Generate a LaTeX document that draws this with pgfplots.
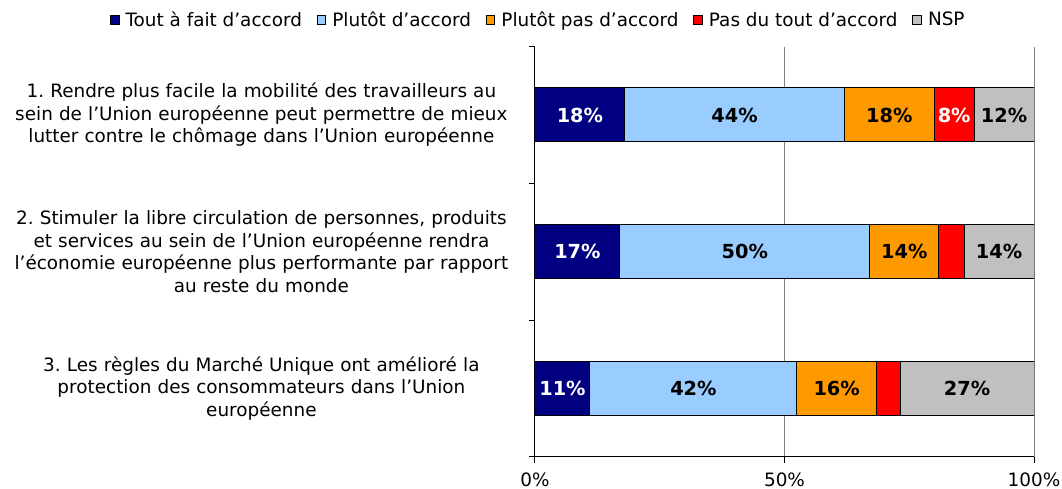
\documentclass[border=0pt]{standalone}
\usepackage{pgfplots}
\pgfplotsset{compat=1.18}
\usepackage{pgfplotstable}
\usepackage{fontspec}
\setmainfont{DejaVu Sans}
\frenchspacing

\definecolor{navy}{HTML}{000080}
\definecolor{lblue}{HTML}{99CCFF}
\definecolor{orng}{HTML}{FF9900}
\definecolor{rd}{HTML}{FF0000}
\definecolor{gr}{HTML}{C0C0C0}
\definecolor{gridgray}{HTML}{808080}

% one row per statement, y=3 is the top bar
\pgfplotstableread{
y a la b lb c lc d ld e le
3 18 18\% 44 44\% 18 18\% 8 8\% 12 12\%
2 17 17\% 50.1 50\% 13.8 14\% 5.1 {} 14 14\%
1 11 11\% 41.5 42\% 15.9 16\% 4.8 {} 26.8 27\%
}\datatable

\begin{document}
\begin{tikzpicture}
\begin{axis}[
    scale only axis,
    width=374.25pt, height=307.5pt,
    xbar stacked,
    bar width=40.5pt,
    xmin=0, xmax=100,
    ymin=0.5, ymax=3.5,
    axis x line*=bottom,
    axis y line*=left,
    axis line style={black, line width=0.75pt},
    xtick={0,50,100},
    xticklabels={0\%,50\%,100\%},
    xmajorgrids,
    major x grid style={gridgray, line width=0.75pt},
    tick align=outside,
    major tick length=4.5pt,
    tick style={black, line width=0.75pt},
    ytick={1,2,3},
    yticklabels={
        {3. Les règles du Marché Unique ont amélioré la\\protection des consommateurs dans l’Union\\européenne},
        {2. Stimuler la libre circulation de personnes, produits\\et services au sein de l’Union européenne rendra\\l’économie européenne plus performante par rapport\\au reste du monde},
        {1. Rendre plus facile la mobilité des travailleurs au\\sein de l’Union européenne peut permettre de mieux\\lutter contre le chômage dans l’Union européenne}},
    ytick style={draw=none},
    extra y ticks={0.5,1.5,2.5,3.5},
    extra y tick labels={},
    extra y tick style={ytick style={draw=black}, grid=none},
    yticklabel style={align=center, text width=375pt, inner sep=0pt,
        anchor=east, xshift=-13pt,
        font=\fontsize{13.8}{16.9}\selectfont},
    xticklabel style={font=\fontsize{13.8}{16}\selectfont, yshift=-4pt},
    point meta=explicit symbolic,
    nodes near coords={\pgfplotspointmeta},
    every node near coord/.append style={font=\bfseries\fontsize{14.5}{17}\selectfont},
    legend image code/.code={\draw[#1, draw=black, line width=0.75pt] (0pt,-3.3pt) rectangle (6.6pt,3.3pt);},
    legend columns=-1,
    legend style={draw=none, fill=none, at={(0.007,1.065)}, anchor=center,
        font=\fontsize{13.8}{16}\selectfont, inner sep=0pt,
        /tikz/every odd column/.append style={column sep=2.5pt},
        /tikz/every even column/.append style={column sep=9pt}},
]
\addplot[fill=navy, draw=black, line width=0.75pt,
    every node near coord/.append style={text=white}]
    table[x=a, y=y, meta=la]{\datatable};
\addplot[fill=lblue, draw=black, line width=0.75pt]
    table[x=b, y=y, meta=lb]{\datatable};
\addplot[fill=orng, draw=black, line width=0.75pt]
    table[x=c, y=y, meta=lc]{\datatable};
\addplot[fill=rd, draw=black, line width=0.75pt,
    every node near coord/.append style={text=white}]
    table[x=d, y=y, meta=ld]{\datatable};
\addplot[fill=gr, draw=black, line width=0.75pt]
    table[x=e, y=y, meta=le]{\datatable};
\legend{Tout à fait d’accord, Plutôt d’accord, Plutôt pas d’accord, Pas du tout d’accord, NSP}
\end{axis}
\pgfresetboundingbox
\path[use as bounding box] (-401.25pt,-24.2pt) rectangle (395.25pt,342.5pt);
\end{tikzpicture}
\end{document}
